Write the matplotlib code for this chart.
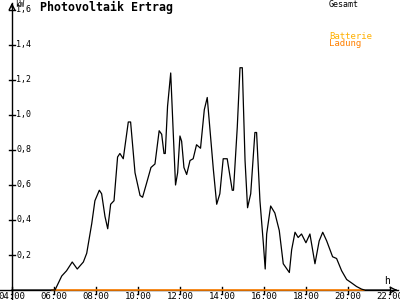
import matplotlib
matplotlib.use('Agg')
from matplotlib import pyplot as plt

# Gesamt-Ertrag (Stunden, kW)
stunden = [4.0, 6.05, 6.37, 6.6, 6.87, 7.11, 7.4, 7.56, 7.8, 7.95, 8.16, 8.27, 8.43, 8.56,
           8.7, 8.86, 9.03, 9.14, 9.3, 9.54, 9.65, 9.86, 10.1, 10.22, 10.41, 10.62, 10.81,
           11.01, 11.13, 11.24, 11.3, 11.41, 11.56, 11.68, 11.79, 11.89, 12.0, 12.08, 12.19,
           12.32, 12.48, 12.63, 12.79, 12.98, 13.16, 13.3, 13.59, 13.75, 13.9, 14.06, 14.25,
           14.49, 14.55, 14.73, 14.86, 14.97, 15.1, 15.22, 15.37, 15.57, 15.65, 15.81, 15.97,
           16.06, 16.13, 16.32, 16.52, 16.73, 16.92, 17.21, 17.32, 17.48, 17.63, 17.79, 18.0,
           18.19, 18.43, 18.63, 18.8, 18.99, 19.27, 19.46, 19.7, 19.94, 20.18, 20.41, 20.65,
           20.8, 22.0]
gesamt = [0.0, 0.0, 0.08, 0.11, 0.16, 0.12, 0.16, 0.21, 0.38, 0.51, 0.57, 0.55, 0.42, 0.35,
          0.49, 0.51, 0.76, 0.78, 0.75, 0.96, 0.96, 0.67, 0.54, 0.53, 0.61, 0.70, 0.72,
          0.91, 0.89, 0.78, 0.78, 1.05, 1.24, 0.90, 0.60, 0.67, 0.88, 0.85, 0.70,
          0.66, 0.74, 0.75, 0.83, 0.81, 1.03, 1.10, 0.69, 0.49, 0.55, 0.75, 0.75,
          0.57, 0.57, 0.93, 1.27, 1.27, 0.74, 0.47, 0.55, 0.90, 0.90, 0.51, 0.27,
          0.12, 0.32, 0.48, 0.44, 0.34, 0.15, 0.10, 0.23, 0.33, 0.30, 0.32, 0.27,
          0.32, 0.15, 0.28, 0.33, 0.28, 0.19, 0.18, 0.11, 0.06, 0.04, 0.02, 0.005,
          0.0, 0.0]
# Batterie-Ladung
lade_stunden = [5.9, 20.75]
ladung = [0.0, 0.0]

y_ticks = [0.2, 0.4, 0.6, 0.8, 1.0, 1.2, 1.4, 1.6]
x_ticks = [4, 6, 8, 10, 12, 14, 16, 18, 20, 22]

schrift = 'DejaVu Sans Mono'

fig = plt.figure(figsize=(4, 3), dpi=100)
ax = fig.add_axes([0, 0, 1, 1])
ax.set_xlim(3.43, 22.48)
ax.set_ylim(-0.0571, 1.657)
ax.axis('off')

# Achsen
ax.plot([3.43, 22.4], [0, 0], color='black', lw=1)
ax.plot([4, 4], [-0.06, 1.64], color='black', lw=1)
ax.annotate('', xy=(22.48, 0), xytext=(22.1, 0),
            arrowprops=dict(arrowstyle='->', color='black', lw=1))
ax.annotate('', xy=(4, 1.657), xytext=(4, 1.6),
            arrowprops=dict(arrowstyle='->', color='black', lw=1))

for y in y_ticks:
    ax.plot([3.85, 4.15], [y, y], color='black', lw=1)
    ax.text(4.2, y, f'{y:.1f}'.replace('.', ','), fontsize=6, family=schrift,
            va='center', ha='left')
for x in x_ticks:
    ax.plot([x, x], [-0.02, 0.02], color='black', lw=1)
    ax.text(x, -0.035, f'{x:02d}:00', fontsize=6.5, family=schrift,
            va='center', ha='center')

ax.text(4.15, 1.655, 'kW', fontsize=5.5, family=schrift, va='top', ha='left')
ax.text(21.85, 0.025, 'h', fontsize=7, family=schrift, va='bottom', ha='center')

ax.plot(lade_stunden, ladung, color='#FF8000', lw=1.2)
ax.plot(stunden, gesamt, color='black', lw=0.9)

ax.text(5.33, 1.615, 'Photovoltaik Ertrag', fontsize=8.4, family=schrift,
        fontweight='bold', va='center', ha='left')
ax.text(19.1, 1.632, 'Gesamt', fontsize=6, family=schrift, va='center', ha='left')
ax.text(19.1, 1.451, 'Batterie', fontsize=6.5, family=schrift, color='#FFB000',
        va='center', ha='left')
ax.text(19.1, 1.406, 'Ladung', fontsize=6.5, family=schrift, color='#FF8000',
        va='center', ha='left')

fig.savefig('out.png', dpi=100)
